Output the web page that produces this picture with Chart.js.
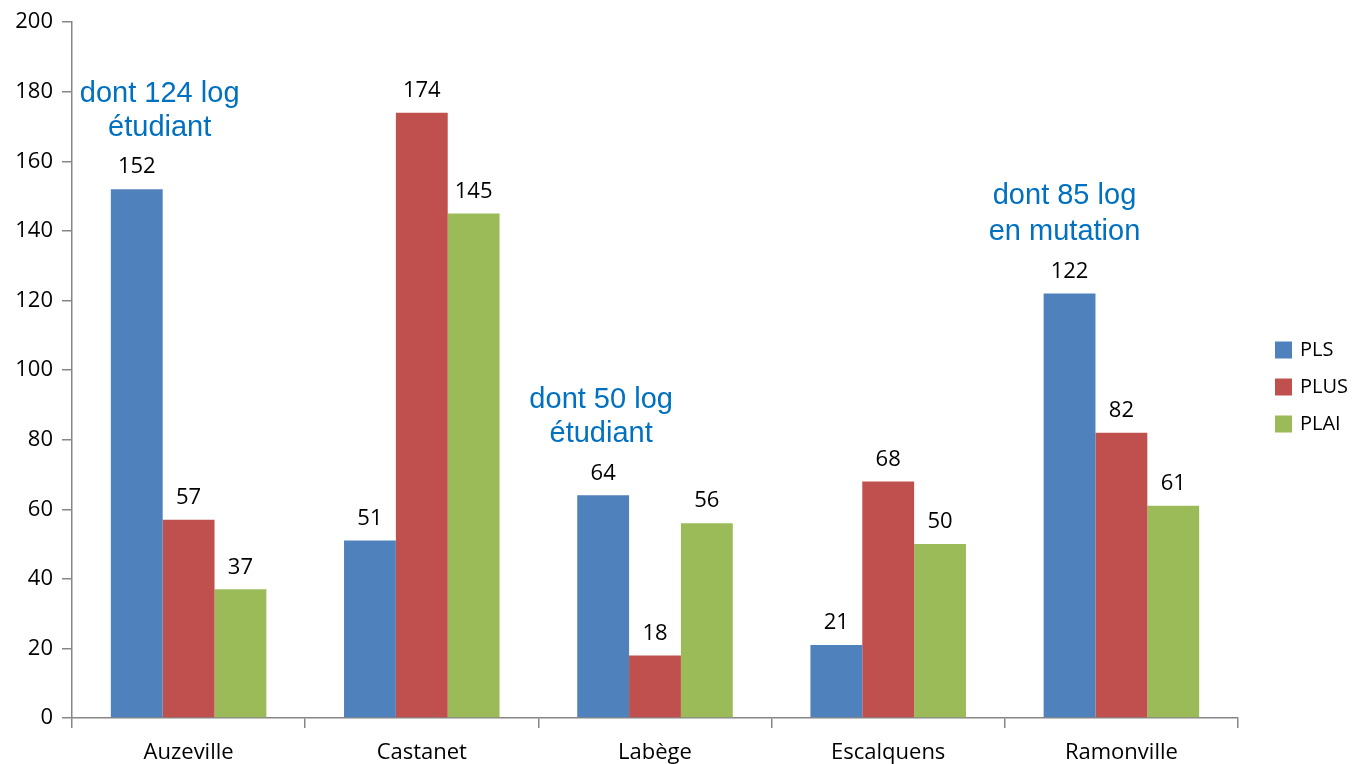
<!DOCTYPE html>
<html>
<head>
<meta charset="utf-8">
<script src="https://cdn.jsdelivr.net/npm/chart.js@4"></script>
<style>
html,body{margin:0;padding:0;background:#fff;}
#wrap{width:1354px;height:764px;position:relative;}
</style>
</head>
<body>
<div id="wrap"><canvas id="c" width="1354" height="764"></canvas></div>
<script>
const categories = ['Auzeville', 'Castanet', 'Labège', 'Escalquens', 'Ramonville'];
const seriesNames = ['PLS', 'PLUS', 'PLAI'];
const plsValues = [152, 51, 64, 21, 122];
const plusValues = [57, 174, 18, 68, 82];
const plaiValues = [37, 145, 56, 50, 61];
const yTicks = [0, 20, 40, 60, 80, 100, 120, 140, 160, 180, 200];
const noteLines = [
  ['dont 124 log', 'étudiant'],
  ['dont 50 log', 'étudiant'],
  ['dont 85 log', 'en mutation']
];

const colors = ['#4F81BD', '#C0504D', '#9BBB59'];
const notePlacement = [
  {x: -0.124, y: [179.4, 169.6]},
  {x: 1.769, y: [91.4, 81.7]},
  {x: 3.756, y: [150.1, 139.8]}
];
const FONT = "'Open Sans', 'Liberation Sans', sans-serif";

const valueLabels = {
  id: 'valueLabels',
  afterDatasetsDraw(chart) {
    const ctx = chart.ctx;
    ctx.save();
    ctx.font = '22px ' + FONT;
    ctx.fillStyle = '#000';
    ctx.textAlign = 'center';
    ctx.textBaseline = 'middle';
    chart.data.datasets.forEach((ds, i) => {
      const meta = chart.getDatasetMeta(i);
      meta.data.forEach((bar, j) => {
        ctx.fillText(String(ds.data[j]), bar.x, bar.y - 22);
      });
    });
    ctx.restore();
  }
};

const notes = {
  id: 'notes',
  afterDatasetsDraw(chart) {
    const ctx = chart.ctx;
    const xs = chart.scales.x, ys = chart.scales.y;
    ctx.save();
    ctx.font = '29px ' + "'Liberation Sans', Arial, sans-serif";
    ctx.fillStyle = '#0070C0';
    ctx.textAlign = 'center';
    ctx.textBaseline = 'middle';
    noteLines.forEach((lines, k) => {
      const p = notePlacement[k];
      const px = xs.getPixelForValue(p.x);
      lines.forEach((t, m) => ctx.fillText(t, px, ys.getPixelForValue(p.y[m])));
    });
    ctx.restore();
  }
};

const legendRight = {
  id: 'legendRight',
  afterDraw(chart) {
    const ctx = chart.ctx;
    ctx.save();
    ctx.font = '20px ' + FONT;
    ctx.textBaseline = 'middle';
    ctx.textAlign = 'left';
    chart.data.datasets.forEach((ds, i) => {
      const cy = 350 + i * 37;
      ctx.fillStyle = ds.backgroundColor;
      ctx.fillRect(1275, cy - 8.5, 17, 17);
      ctx.fillStyle = '#000';
      ctx.fillText(ds.label, 1300, cy);
    });
    ctx.restore();
  }
};

new Chart(document.getElementById('c'), {
  type: 'bar',
  data: {
    labels: categories,
    datasets: [
      {label: seriesNames[0], data: plsValues, backgroundColor: colors[0]},
      {label: seriesNames[1], data: plusValues, backgroundColor: colors[1]},
      {label: seriesNames[2], data: plaiValues, backgroundColor: colors[2]}
    ]
  },
  options: {
    responsive: false,
    animation: false,
    devicePixelRatio: 1,
    layout: {padding: {left: 0, right: 116, top: 18, bottom: 0}},
    datasets: {bar: {categoryPercentage: 0.667, barPercentage: 1, borderWidth: 0}},
    plugins: {legend: {display: false}, tooltip: {enabled: false}},
    scales: {
      x: {
        grid: {offset: true, drawOnChartArea: false, drawTicks: true, tickLength: 10, color: '#868686', lineWidth: 1.5},
        border: {color: '#868686', width: 1.5},
        ticks: {color: '#000', font: {family: FONT, size: 22}, padding: 12, maxRotation: 0},
        afterFit(s) { s.height = 46; }
      },
      y: {
        min: 0, max: 200,
        afterBuildTicks(s) { s.ticks = yTicks.map(v => ({value: v})); },
        grid: {drawOnChartArea: false, drawTicks: true, tickLength: 10, color: '#868686', lineWidth: 1.5},
        border: {color: '#868686', width: 1.5},
        ticks: {color: '#000', font: {family: FONT, size: 22}, padding: 9},
        afterFit(s) { s.width = 72; }
      }
    }
  },
  plugins: [valueLabels, notes, legendRight]
});
</script>
</body>
</html>
